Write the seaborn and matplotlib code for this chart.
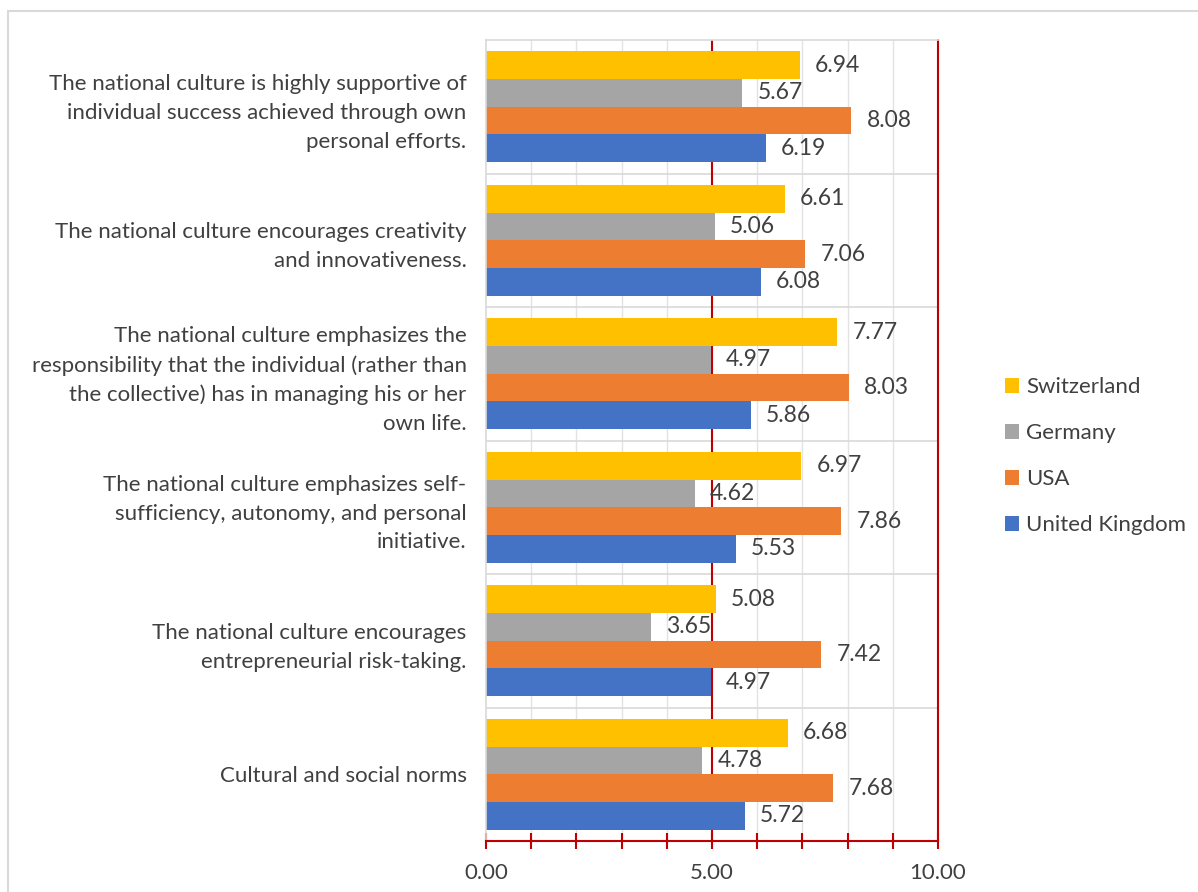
import matplotlib
matplotlib.use("Agg")
import matplotlib.pyplot as plt
import seaborn as sns
import pandas as pd
import numpy as np
from matplotlib.patches import Rectangle, Patch
from matplotlib.ticker import MultipleLocator, FixedLocator, FuncFormatter

categories = [
    "The national culture is highly supportive of\nindividual success achieved through own\npersonal efforts.",
    "The national culture encourages creativity\nand innovativeness.",
    "The national culture emphasizes the\nresponsibility that the individual (rather than\nthe collective) has in managing his or her\nown life.",
    "The national culture emphasizes self-\nsufficiency, autonomy, and personal\ninitiative.",
    "The national culture encourages\nentrepreneurial risk-taking.",
    "Cultural and social norms",
]
series = ["Switzerland", "Germany", "USA", "United Kingdom"]
switzerland = [6.94, 6.61, 7.77, 6.97, 5.08, 6.68]
germany = [5.67, 5.06, 4.97, 4.62, 3.65, 4.78]
usa = [8.08, 7.06, 8.03, 7.86, 7.42, 7.68]
uk = [6.19, 6.08, 5.86, 5.53, 4.97, 5.72]
colors = ["#FFC000", "#A5A5A5", "#ED7D31", "#4472C4"]
x_ticks = [0, 5, 10]

values = [switzerland, germany, usa, uk]
rows = []
for s, vals in zip(series, values):
    for c, v in zip(categories, vals):
        rows.append({"category": c, "country": s, "value": v})
df = pd.DataFrame(rows)

sns.set_theme(style="white")
plt.rcParams["font.family"] = ["Lato", "DejaVu Sans"]
text_color = "#404040"
fs = 16

fig = plt.figure(figsize=(11.98, 8.92), dpi=100)
ax = fig.add_axes([486/1198, 1-841/892, (938-486)/1198, (841-40)/892])

sns.barplot(data=df, y="category", x="value", hue="country", order=categories,
            hue_order=series, palette=colors, orient="h", width=0.83,
            saturation=1, ax=ax, legend=False, linewidth=0)

for cont in ax.containers:
    ax.bar_label(cont, fmt="%.2f", padding=11, fontsize=fs + 0.5, color=text_color)

ax.set_xlim(0, 10)
ax.set_ylim(len(categories) - 0.5, -0.5)
ax.set_xlabel("")
ax.set_ylabel("")

# gridlines
for xv in range(1, 10):
    if xv == 5:
        continue
    ax.axvline(xv, color="#E3E3E3", lw=1, zorder=0)
ax.axvline(5, color="#C00000", lw=1.5, zorder=0.5)
ax.axvline(10, color="#C00000", lw=1.5, zorder=0.5, clip_on=False)
for yb in np.arange(0.5, len(categories) - 0.5, 1):
    ax.axhline(yb, color="#D9D9D9", lw=1.2, zorder=0)

for side in ["top", "left"]:
    ax.spines[side].set_color("#D9D9D9")
    ax.spines[side].set_linewidth(1.2)
ax.spines["right"].set_visible(False)
ax.spines["bottom"].set_color("#C00000")
ax.spines["bottom"].set_linewidth(1.5)

ax.xaxis.set_major_locator(FixedLocator(x_ticks))
ax.xaxis.set_major_formatter(FuncFormatter(lambda v, p: f"{v:.2f}"))
ax.xaxis.set_minor_locator(MultipleLocator(1))
ax.tick_params(axis="x", which="both", direction="inout", length=11, width=1.5,
               color="#C00000", bottom=True, labelsize=fs, labelcolor=text_color, pad=10)
ax.tick_params(axis="y", length=0, labelsize=fs, labelcolor=text_color, pad=14)
for lab in ax.get_yticklabels():
    lab.set_linespacing(1.55)
    lab.set_horizontalalignment("right")

handles = [Patch(facecolor=c, edgecolor="none", label=s) for s, c in zip(series, colors)]
fig.legend(handles=handles, loc="center left", bbox_to_anchor=(985/1198, 1-456/892),
           frameon=False, fontsize=fs, labelcolor=text_color, handlelength=0.65,
           handleheight=0.65, handletextpad=0.3, labelspacing=1.17)

fig.add_artist(Rectangle((8/1198, -0.1), 1.2, 1 - 11/892 + 0.1, transform=fig.transFigure,
                         fill=False, edgecolor="#D9D9D9", lw=1.5))

fig.savefig("out.png", dpi=100, facecolor="white")
